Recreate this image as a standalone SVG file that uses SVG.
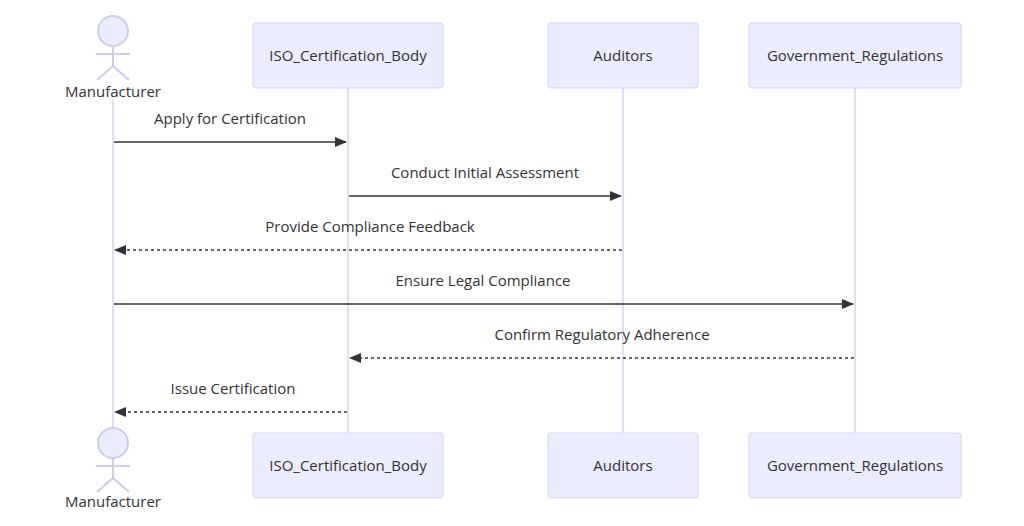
<svg xmlns="http://www.w3.org/2000/svg" width="1024" height="526" viewBox="0 0 1024 526">
<style>
.box{fill:#ececff;stroke:#d6d3f0;stroke-width:1}
.life{stroke:#d6d3f0;stroke-width:1.5}
.act{fill:#ececff;stroke:#cfcce8;stroke-width:2}
.actl{stroke:#cfcce8;stroke-width:2;fill:none}
text{font-family:"Open Sans","Noto Sans",sans-serif;font-size:15px;fill:#333;text-anchor:middle}
.m{stroke:#333;stroke-width:1.5;fill:none}
.d{stroke-dasharray:3,3}
</style>
<defs>
<marker id="ah" markerWidth="12" markerHeight="10" refX="11" refY="5" orient="auto" markerUnits="userSpaceOnUse"><path d="M0,0L12,5L0,10z" fill="#333"/></marker>
</defs>
<rect width="1024" height="526" fill="#fff"/>
<g id="lifelines">
<line class="life" x1="113" y1="100" x2="113" y2="430"/>
<line class="life" x1="348" y1="88" x2="348" y2="433"/>
<line class="life" x1="623" y1="88" x2="623" y2="433"/>
<line class="life" x1="855" y1="88" x2="855" y2="433"/>
</g>
<g id="Manufacturer">
<circle class="act" cx="113" cy="31" r="15"/>
<path class="actl" d="M113,46V66M96,54H130M113,66L97,80M113,66L129,80"/>
<text x="113" y="97">Manufacturer</text>
</g>
<g id="Manufacturer_bottom">
<circle class="act" cx="113" cy="443" r="15"/>
<path class="actl" d="M113,458V478M96,466H130M113,478L97,492M113,478L129,492"/>
<text x="113" y="507">Manufacturer</text>
</g>
<g id="ISO"><rect class="box" x="253" y="23" width="190" height="65" rx="3"/><text x="348" y="61">ISO_Certification_Body</text></g>
<g id="Auditors"><rect class="box" x="548" y="23" width="150" height="65" rx="3"/><text x="623" y="61">Auditors</text></g>
<g id="Gov"><rect class="box" x="749" y="23" width="212" height="65" rx="3"/><text x="855" y="61">Government_Regulations</text></g>
<g id="ISO_bottom"><rect class="box" x="253" y="433" width="190" height="65" rx="3"/><text x="348" y="471">ISO_Certification_Body</text></g>
<g id="Auditors_bottom"><rect class="box" x="548" y="433" width="150" height="65" rx="3"/><text x="623" y="471">Auditors</text></g>
<g id="Gov_bottom"><rect class="box" x="749" y="433" width="212" height="65" rx="3"/><text x="855" y="471">Government_Regulations</text></g>
<g id="connectors">
<line class="m" x1="114" y1="142" x2="346" y2="142" marker-end="url(#ah)"/>
<text x="230" y="124">Apply for Certification</text>
<line class="m" x1="349" y1="196" x2="621" y2="196" marker-end="url(#ah)"/>
<text x="485" y="178">Conduct Initial Assessment</text>
<line class="m d" x1="622" y1="250" x2="115" y2="250" marker-end="url(#ah)"/>
<text x="370" y="232">Provide Compliance Feedback</text>
<line class="m" x1="114" y1="304" x2="853" y2="304" marker-end="url(#ah)"/>
<text x="483" y="286">Ensure Legal Compliance</text>
<line class="m d" x1="854" y1="358" x2="350" y2="358" marker-end="url(#ah)"/>
<text x="602" y="340">Confirm Regulatory Adherence</text>
<line class="m d" x1="347" y1="412" x2="115" y2="412" marker-end="url(#ah)"/>
<text x="233" y="394">Issue Certification</text>
</g>
</svg>
